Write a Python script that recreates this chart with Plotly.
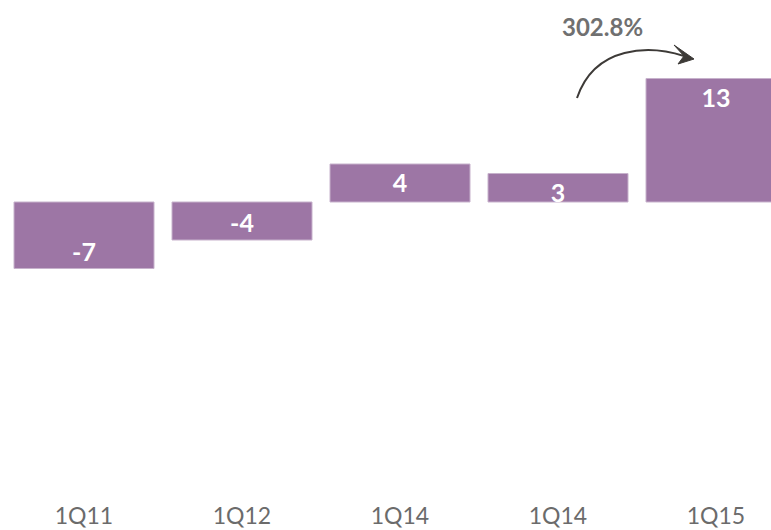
import plotly.graph_objects as go

categories = ["1Q11", "1Q12", "1Q14", "1Q14", "1Q15"]
values = [-7, -4, 4, 3, 13]
growth_label = "302.8%"

W, H = 771, 530
B = 30
PLOT_H = H - B
X0_PX, SLOT = 84, 158          # pixel centre of first bar, slot width
ZERO_PX, PX_PER_UNIT = 202, 9.5

x_pos = list(range(len(categories)))
x_range = [(0 - X0_PX) / SLOT, (W - X0_PX) / SLOT]
y_range = [-(PLOT_H - ZERO_PX) / PX_PER_UNIT, ZERO_PX / PX_PER_UNIT]


def px_to_data(px, py):
    """page pixel -> data coordinates"""
    return (px - X0_PX) / SLOT, (ZERO_PX - py) / PX_PER_UNIT


fig = go.Figure()
fig.add_trace(go.Bar(
    x=x_pos, y=values, width=140 / SLOT,
    marker=dict(color="#9d76a5", line=dict(color="#c7b2cc", width=1)),
    text=[str(v) for v in values], textposition="inside", insidetextanchor="end",
    textangle=0, constraintext="none",
    textfont=dict(family="Lato", size=25, color="white", weight="bold"),
    hoverinfo="skip",
))

# curved arrow
sx, sy = px_to_data(577, 98)
c1x, c1y = px_to_data(595, 45)
c2x, c2y = px_to_data(650, 45)
ex, ey = px_to_data(684, 56)
fig.add_shape(type="path", xref="x", yref="y",
              path=f"M {sx},{sy} C {c1x},{c1y} {c2x},{c2y} {ex},{ey}",
              line=dict(color="#3d3a37", width=2))
tx, ty = px_to_data(694, 59)
ax1, ay1 = px_to_data(674, 45)
ax2, ay2 = px_to_data(678, 64)
fig.add_shape(type="path", xref="x", yref="y",
              path=f"M {tx},{ty} L {ax1},{ay1} L {ex},{ey} L {ax2},{ay2} Z",
              line=dict(color="#3d3a37", width=1), fillcolor="#3d3a37")

lx, ly = px_to_data(602, 26)
fig.add_annotation(x=lx, y=ly, xref="x", yref="y", text=f"<b>{growth_label}</b>",
                   showarrow=False, font=dict(family="Lato", size=24, color="#707070"))

fig.update_layout(
    width=W, height=H, margin=dict(l=0, r=0, t=0, b=B),
    paper_bgcolor="white", plot_bgcolor="white", showlegend=False,
    xaxis=dict(range=x_range, tickmode="array", tickvals=x_pos, ticktext=categories,
               showgrid=False, zeroline=False, showline=False, ticks="",
               tickfont=dict(family="Lato", size=23, color="#6b6b6b")),
    yaxis=dict(range=y_range, visible=False, showgrid=False, zeroline=False),
)

fig.write_html("out.html", config={"displayModeBar": False, "staticPlot": True},
               post_script="document.body.style.margin='0';document.body.style.overflow='hidden';")
